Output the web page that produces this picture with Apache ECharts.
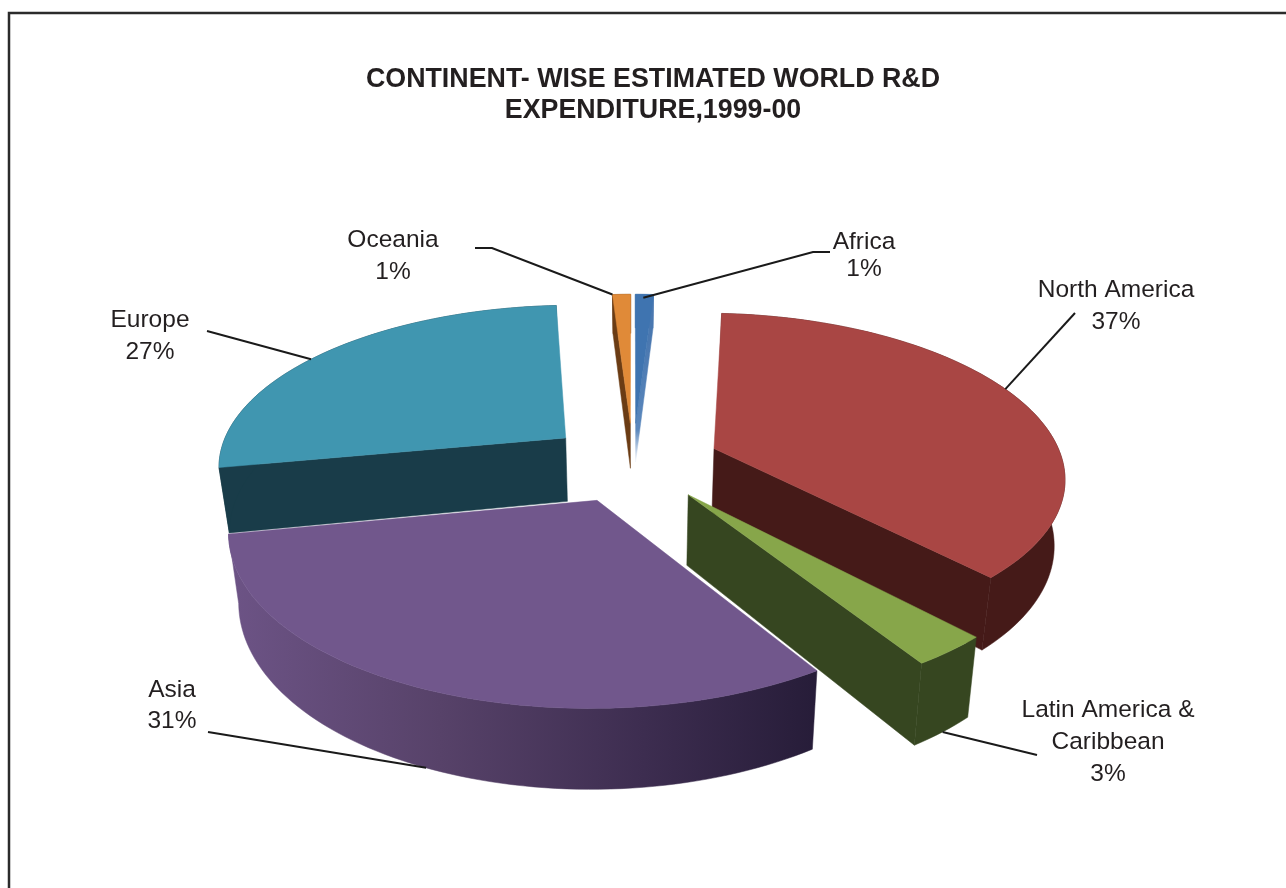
<!DOCTYPE html>
<html>
<head>
<meta charset="utf-8">
<title>Continent-wise estimated world R&amp;D expenditure</title>
<script src="https://cdn.jsdelivr.net/npm/echarts@6/dist/echarts.min.js"></script>
<style>html,body{margin:0;padding:0;background:#fff}#chart{width:1286px;height:888px}</style>
</head>
<body>
<div id="chart"></div>
<script>
// Share of world R&D spending by continent, clockwise from twelve o'clock.
const continents = ['Africa', 'North America', 'Latin America &\nCaribbean', 'Asia', 'Europe', 'Oceania'];
const shares = [1, 37, 3, 31, 27, 1];

// Face colours of each slice.
const topColors = ['#3f74b0', '#a94644', '#87a64a', '#71578c', '#4096b0', '#e08a38'];
const wallColors = ['#4a78b0', '#451a18', '#364620', '#5f4878', '#193c49', '#6b3c14'];
// Back slices are painted first.
const paintOrder = [2, 3, 4, 5, 1, 2];
// The two slivers taper away to a point, so their walls read shorter.
const wallScale = [0.62, 1, 1.05, 1, 1, 0.72];

// Projection of the tilted, exploded pie onto the page.
const view = { cx: 633, cy: 462, rx: 349, ry: 161, explode: 0.25, persp: 0.16, depth: 65, taper: 0.975 };

// Labels and their leader lines: where each line leaves the label and where it lands on the slice.
const labelCenters = [[864, 243], [1116, 288], [1108, 708], [172, 689], [150, 318], [393, 238]];
const labelLineHeights = [27, 32, 32, 31, 32, 32];
const leaderStarts = [[830, 252], [1075, 313], [1037, 755], [208, 732], [207, 331], [475, 248]];
const leaderElbows = [[813, 252], null, null, null, null, [492, 248]];
const leaderLanding = [
  { along: 0.45, radius: 0.97, lower: false },
  { along: 0.47, radius: 1, lower: false },
  { along: 0.5, radius: 1, lower: true },
  { along: 0.5, radius: 1, lower: true },
  { along: 0.46, radius: 1, lower: false },
  { along: 0, radius: 1, lower: false }
];

const total = shares.reduce((a, b) => a + b, 0);
const DEG = Math.PI / 180;

function sliceSpan(i) {
  const before = shares.slice(0, i).reduce((a, b) => a + b, 0);
  const from = before / total * 360;
  const to = (before + shares[i]) / total * 360;
  return { from, to, mid: (from + to) / 2, drop: view.depth * wallScale[i] };
}

// Page position of a point on a slice: angle in degrees clockwise from the top.
function project(span, angle, radius, lower) {
  const u = radius * Math.sin(angle * DEG) + view.explode * Math.sin(span.mid * DEG);
  const v = radius * Math.cos(angle * DEG) + view.explode * Math.cos(span.mid * DEG);
  const w = 1 + view.persp * v;
  let x = view.cx + view.rx * u / w;
  let y = view.cy - view.ry * v / w;
  if (lower) {
    x = view.cx + (x - view.cx) * view.taper;
    y += span.drop / w;
  }
  return [x, y];
}

function arcPoints(span, lower) {
  const pts = [];
  const steps = Math.max(4, Math.ceil((span.to - span.from) / 1.5));
  for (let s = 0; s <= steps; s++) {
    pts.push(project(span, span.from + (span.to - span.from) * s / steps, 1, lower));
  }
  return pts;
}

function poly(points, fill, z2) {
  return { type: 'polygon', shape: { points }, style: { fill, stroke: fill, lineWidth: 0.5 }, z2, silent: true };
}

function wallFill(i, outer) {
  if (i === 3 && outer) {
    return new echarts.graphic.LinearGradient(235, 0, 820, 0, [
      { offset: 0, color: '#6c5385' },
      { offset: 0.35, color: '#574269' },
      { offset: 0.7, color: '#3d2d50' },
      { offset: 1, color: '#261c38' }
    ], true);
  }
  if (i === 0) {
    return new echarts.graphic.LinearGradient(0, 340, 0, 460, [
      { offset: 0, color: '#4a78b0' },
      { offset: 0.75, color: '#5b88bd' },
      { offset: 1, color: '#eef2f8' }
    ], true);
  }
  return wallColors[i];
}

function renderSlice(params, api) {
  const i = params.dataIndex;
  const span = sliceSpan(i);
  const base = paintOrder[i] * 10 + (i === 0 ? 5 : 0);
  const apexTop = project(span, span.mid, 0, false);
  const apexLow = project(span, span.mid, 0, true);
  const children = [];

  // Radial walls show only where they turn toward the viewer.
  [span.from, span.to].forEach((edge, k) => {
    const normal = k === 0 ? edge - 90 : edge + 90;
    if (Math.cos(normal * DEG) < 0) {
      children.push(poly([
        apexTop,
        project(span, edge, 1, false),
        project(span, edge, 1, true),
        apexLow
      ], wallFill(i, false), base));
    }
  });

  // Rim wall, then the top face over it.
  const upper = arcPoints(span, false);
  const low = arcPoints(span, true);
  children.push(poly(upper.concat(low.slice().reverse()), wallFill(i, true), base + 1));
  children.push(poly([apexTop].concat(upper), topColors[i], base + 2));
  return { type: 'group', children };
}

function renderLabel(params) {
  const i = params.dataIndex;
  const span = sliceSpan(i);
  const land = leaderLanding[i];
  const tip = project(span, span.from + (span.to - span.from) * land.along, land.radius, land.lower);
  const points = leaderElbows[i] ? [leaderStarts[i], leaderElbows[i], tip] : [leaderStarts[i], tip];
  return {
    type: 'group',
    children: [
      {
        type: 'polyline', z2: 100, silent: true,
        shape: { points },
        style: { stroke: '#1a1a1a', lineWidth: 2, fill: null }
      },
      {
        type: 'text', z2: 101, silent: true,
        x: labelCenters[i][0], y: labelCenters[i][1] - 14,
        style: {
          text: continents[i] + '\n' + shares[i] + '%',
          fill: '#231f20',
          font: '24.5px "Liberation Sans", Arial, sans-serif',
          lineHeight: labelLineHeights[i],
          align: 'center',
          verticalAlign: 'top'
        }
      }
    ]
  };
}

const pieData = continents.map((name, i) => ({ name, value: shares[i] }));

const chart = echarts.init(document.getElementById('chart'), null, { renderer: 'canvas' });
chart.setOption({
  animation: false,
  backgroundColor: '#ffffff',
  title: {
    text: 'CONTINENT- WISE ESTIMATED WORLD R&D\nEXPENDITURE,1999-00',
    left: 648,
    top: 59,
    textAlign: 'center',
    textStyle: {
      fontFamily: '"Liberation Sans", Arial, sans-serif',
      fontWeight: 'bold',
      fontSize: 26.8,
      lineHeight: 31,
      color: '#231f20'
    }
  },
  graphic: [
    { type: 'polyline', silent: true, shape: { points: [[9, 888], [9, 13], [1286, 13]] }, style: { stroke: '#2b2b2b', lineWidth: 2.5, fill: null } }
  ],
  series: [
    { type: 'custom', coordinateSystem: 'none', data: pieData, renderItem: renderSlice, silent: true },
    { type: 'custom', coordinateSystem: 'none', data: pieData, renderItem: renderLabel, silent: true, z: 5 }
  ]
});
</script>
</body>
</html>
